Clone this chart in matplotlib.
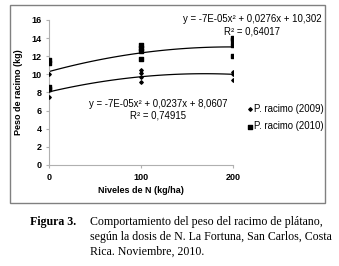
import numpy as np
import matplotlib.pyplot as plt
from matplotlib.patches import Rectangle

plt.rcParams['font.family'] = ['Liberation Sans', 'DejaVu Sans']

# dosis de N y pesos de racimo observados
x2009 = [0, 0, 0, 100, 100, 100, 100, 200, 200, 200]
y2009 = [10.0, 8.3, 7.5, 10.5, 10.1, 9.7, 9.1, 10.3, 10.0, 9.4]
x2010 = [0, 0, 0, 0, 100, 100, 100, 100, 200, 200, 200, 200]
y2010 = [11.6, 11.3, 8.6, 8.4, 13.2, 12.9, 12.6, 11.7, 14.0, 13.8, 13.2, 12.0]

# coeficientes de las lineas de tendencia (a, b, c)
coef2009 = [-7e-05, 0.0237, 8.0607]
coef2010 = [-7e-05, 0.0276, 10.302]

fig = plt.figure(figsize=(3.39, 2.66), dpi=100)
ax = fig.add_axes([0.1445, 0.38, 0.5425, 0.545])

xx = np.linspace(0, 200, 100)
ax.plot(xx, np.polyval(coef2009, xx), color='black', lw=0.9)
ax.plot(xx, np.polyval(coef2010, xx), color='black', lw=0.9)
s1 = ax.scatter(x2009, y2009, marker='D', s=3, color='black', zorder=3,
                label='P. racimo (2009)')
s2 = ax.scatter(x2010, y2010, marker='s', s=7, color='black', zorder=3,
                label='P. racimo (2010)')

ax.set_xlim(0, 200)
ax.set_ylim(0, 16)
ax.set_xticks([0, 100, 200])
ax.set_yticks(range(0, 17, 2))
for s in ['top', 'right']:
    ax.spines[s].set_visible(False)
for s in ['left', 'bottom']:
    ax.spines[s].set_color('#b0b0b0')
    ax.spines[s].set_linewidth(0.8)
ax.tick_params(length=2.5, color='#b0b0b0', labelsize=6.5, pad=3)
for lab in ax.get_xticklabels() + ax.get_yticklabels():
    lab.set_fontweight('bold')
ax.set_xlabel('Niveles de N (kg/ha)', fontsize=6.5, fontweight='bold', labelpad=3)
ax.set_ylabel('Peso de racimo (kg)', fontsize=6.5, fontweight='bold', labelpad=6)

# ecuaciones
fs = 6.9
fig.text(252/339, 1 - 19/266, 'y = -7E-05x² + 0,0276x + 10,302', fontsize=fs,
         ha='center', va='center')
fig.text(252/339, 1 - 31/266, 'R² = 0,64017', fontsize=fs, ha='center', va='center')
fig.text(158/339, 1 - 104/266, 'y = -7E-05x² + 0,0237x + 8,0607', fontsize=fs,
         ha='center', va='center')
fig.text(158/339, 1 - 116/266, 'R² = 0,74915', fontsize=fs, ha='center', va='center')

# leyenda
ax.legend(handles=[s1, s2], loc='upper left',
          bbox_to_anchor=(248/339, 1 - 104/266), bbox_transform=fig.transFigure,
          frameon=False, fontsize=6.9, handlelength=0.4, handletextpad=0.2,
          labelspacing=0.75, borderpad=0, borderaxespad=0)

# marco del grafico
fig.add_artist(Rectangle((10/339, 1 - 203/266), 315/339, 198/266,
                         transform=fig.transFigure, fill=False,
                         edgecolor='#808080', lw=1.0))

# pie de figura
fs2 = 8.6
fig.text(30/339, 1 - 222/266, 'Figura 3.', family='Liberation Serif',
         fontweight='bold', fontsize=fs2, va='center')
lines = ['Comportamiento del peso del racimo de plátano,',
         'según la dosis de N. La Fortuna, San Carlos, Costa',
         'Rica. Noviembre, 2010.']
for i, t in enumerate(lines):
    fig.text(90/339, 1 - (222 + 15 * i)/266, t, family='Liberation Serif',
             fontsize=fs2, va='center')

fig.savefig('out.png', dpi=100)
